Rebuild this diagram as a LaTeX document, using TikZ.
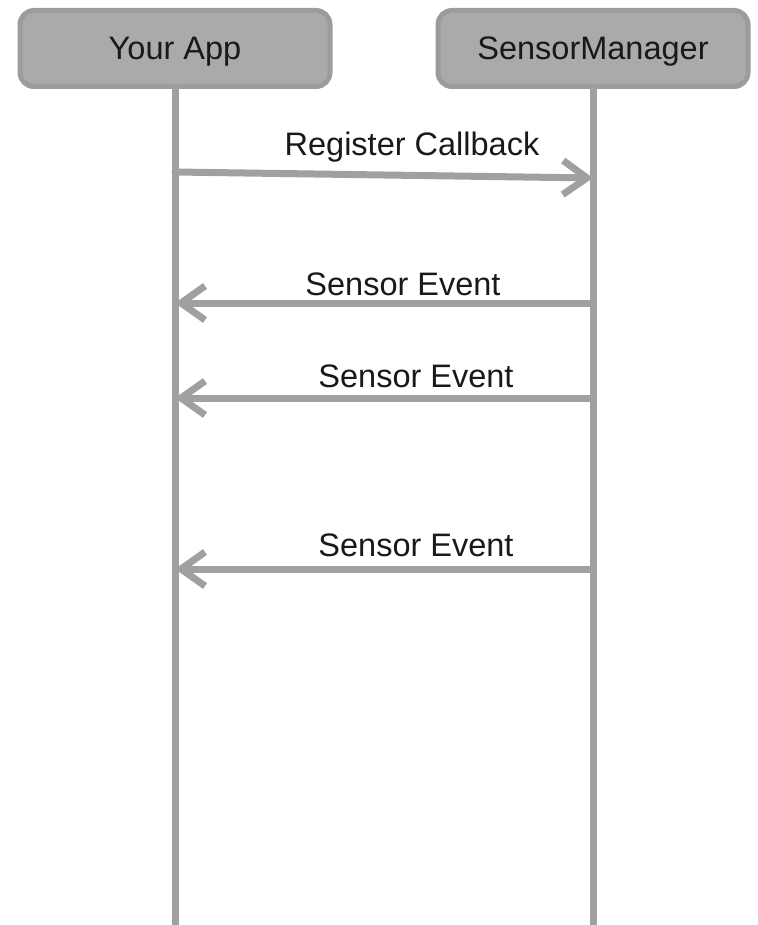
\documentclass[tikz,border=0pt]{standalone}
\usepackage{fontspec}
\setmainfont{Liberation Sans}
\usepackage{xcolor}
\usepackage{tikz}
\usetikzlibrary{arrows.meta, positioning}
\definecolor{boxgray}{HTML}{AAAAAA}
\definecolor{edgegray}{HTML}{9C9C9C}
\definecolor{linegray}{HTML}{A0A0A0}
\tikzset{
  actor/.style={rectangle, draw=edgegray, fill=boxgray, line width=5pt, rounded corners=14pt, minimum width=310pt, minimum height=76pt, outer sep=0pt, text height=23pt, text depth=0pt, font=\fontsize{32.5}{38}\selectfont, text=black!90},
  life/.style={draw=linegray, line width=7pt},
  msg/.style={-{Straight Barb[length=24pt, width=34pt]}, draw=linegray, line width=7pt, line cap=round, line join=round},
  msglabel/.style={anchor=base, font=\fontsize{32.5}{38}\selectfont, text=black!90},
}

\begin{document}
\begin{tikzpicture}[x=1pt, y=-1pt]
    \useasboundingbox (0,0) rectangle (757,925);
    \node[actor] (app) at (175,48.5) {Your App};
    \node[actor, right=108pt of app] (mgr) {SensorManager};
    \coordinate (app-end) at (app |- 0,925);
    \coordinate (mgr-end) at (mgr |- 0,925);
    \draw[life] (app.south) -- (app-end);
    \draw[life] (mgr.south) -- (mgr-end);
    \coordinate (reg-from) at (app |- 0,172);
    \coordinate (reg-to) at (mgr |- 0,178);
    \coordinate (ev1-from) at (mgr |- 0,303);
    \coordinate (ev1-to) at (app |- 0,303);
    \coordinate (ev2-from) at (mgr |- 0,398);
    \coordinate (ev2-to) at (app |- 0,398);
    \coordinate (ev3-from) at (mgr |- 0,569);
    \coordinate (ev3-to) at (app |- 0,569);
    \draw[msg] (reg-from) -- (reg-to);
    \draw[msg] (ev1-from) -- (ev1-to);
    \draw[msg] (ev2-from) -- (ev2-to);
    \draw[msg] (ev3-from) -- (ev3-to);
    \node[msglabel] (reg-label) at (412,156) {Register Callback};
    \node[msglabel] (ev1-label) at (403,295) {Sensor Event};
    \node[msglabel] (ev2-label) at (416,387) {Sensor Event};
    \node[msglabel] (ev3-label) at (416,556) {Sensor Event};
  \end{tikzpicture}
\end{document}
